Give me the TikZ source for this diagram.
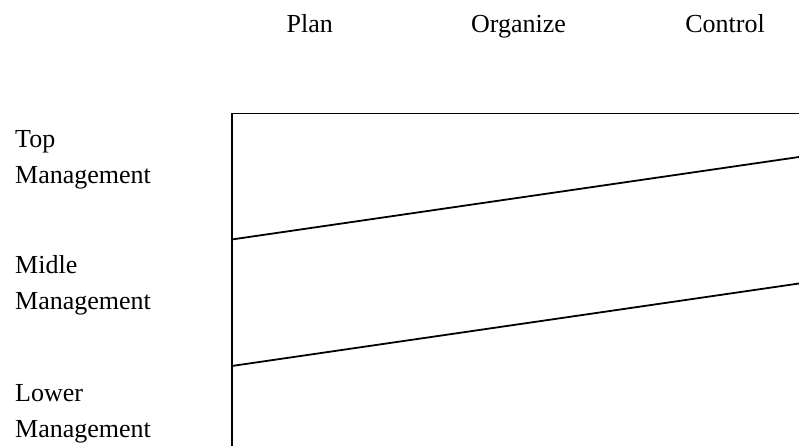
\documentclass[tikz,border=0pt]{standalone}
\usepackage{fontspec}
\setmainfont{Liberation Serif}
\begin{document}
\begin{tikzpicture}[x=1pt,y=-1pt,
  head/.style={anchor=base,inner sep=0pt,font=\rmfamily\fontsize{26}{26}\selectfont},
  level/.style={anchor=base west,inner sep=0pt,font=\rmfamily\fontsize{26}{26}\selectfont},
  rule/.style={line width=1.8pt,line cap=butt}]
  \useasboundingbox (0,0) rectangle (799,446);

  % column headings
  \node[head] (plan) at (309.7,32.3) {Plan};
  \node[head] (organize) at (518.6,32.3) {Organize};
  \node[head] (control) at (725,32.3) {Control};

  % management levels
  \node[level] (top) at (15,148) {Top};
  \node[level] (topm) at (15,184) {Management};
  \node[level] (mid) at (15,273) {Midle};
  \node[level] (midm) at (15,309) {Management};
  \node[level] (low) at (15,401) {Lower};
  \node[level] (lowm) at (15,437) {Management};

  % frame corners and dividing-line ends
  \coordinate (c0) at (231.7,446);
  \coordinate (c1) at (231.7,113.5);
  \coordinate (c2) at (799,113.5);
  \coordinate (a1) at (231.7,239.5);
  \coordinate (b1) at (799,157);
  \coordinate (a2) at (231.7,366);
  \coordinate (b2) at (799,283.5);

  \draw[rule,line join=miter] (c0) -- (c1) -- (c2);
  \draw[rule] (a1) -- (b1);
  \draw[rule] (a2) -- (b2);
\end{tikzpicture}
\end{document}
